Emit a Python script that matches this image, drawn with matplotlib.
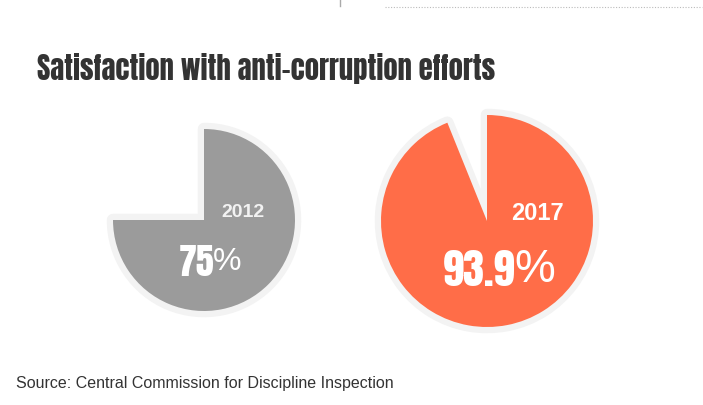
import matplotlib.pyplot as plt

# data
years = ["2012", "2017"]
satisfaction = [75, 93.9]
pct_labels = ["75", "93.9"]
colors = ["#9b9b9b", "#ff6d48"]

W, H = 703, 406
narrow = ["Anton", "Oswald", "DejaVu Sans"]
arial = ["Liberation Sans", "DejaVu Sans"]

fig = plt.figure(figsize=(W / 100, H / 100), dpi=100)
ax = fig.add_axes([0, 0, 1, 1])

# pie layout in pixel space (y measured from top)
centers = [(204, 221), (487, 222)]
radii = [91, 106]
border = "#f3f3f3"

for val, col, (cx, cy), r in zip(satisfaction, colors, centers, radii):
    c = (cx, H - cy)
    # light halo underneath
    ax.pie([val, 100 - val], colors=[border, "none"], radius=r, center=c,
           startangle=90, counterclock=False,
           wedgeprops=dict(edgecolor=border, linewidth=9, joinstyle="round"))
    ax.pie([val, 100 - val], colors=[col, "none"], radius=r, center=c,
           startangle=90, counterclock=False,
           wedgeprops=dict(edgecolor="none", linewidth=0))
# no halo around the empty slices
for w in ax.patches:
    if w.get_facecolor()[3] == 0:
        w.set_edgecolor("none")

ax.set_xlim(0, W)
ax.set_ylim(0, H)
ax.set_aspect("equal")
ax.axis("off")

# year labels
ax.text(243, H - 213, years[0], color="#f2f2f2", fontsize=14, fontweight="bold",
        family=arial, ha="center", va="center")
ax.text(537, H - 214, years[1], color="white", fontsize=17, fontweight="bold",
        family=arial, ha="center", va="center")

# percentage labels: condensed number + regular % sign
ax.text(214, H - 262, pct_labels[0], color="white", fontsize=26,
        family=narrow, ha="right", va="center")
ax.text(213, H - 262, "%", color="white", fontsize=23, family=arial,
        ha="left", va="center")
ax.text(515, H - 270, pct_labels[1], color="white", fontsize=30.5,
        family=narrow, ha="right", va="center")
ax.text(514, H - 270, "%", color="white", fontsize=33, family=arial,
        ha="left", va="center")

ax.text(37, H - 80, "Satisfaction with anti-corruption efforts", color="#333333",
        fontsize=20.6, family=narrow, ha="left", va="baseline")
ax.text(16, H - 388, "Source: Central Commission for Discipline Inspection",
        color="#333333", fontsize=11.5, family=arial, ha="left", va="baseline")

# page decorations at the top
ax.plot([340, 340], [H, H - 7], color="#aaaaaa", lw=1)
ax.plot([385, 702], [H - 8, H - 8], color="#bbbbbb", lw=0.8, ls=(0, (1, 1.5)))

fig.savefig("out.png", dpi=100)
